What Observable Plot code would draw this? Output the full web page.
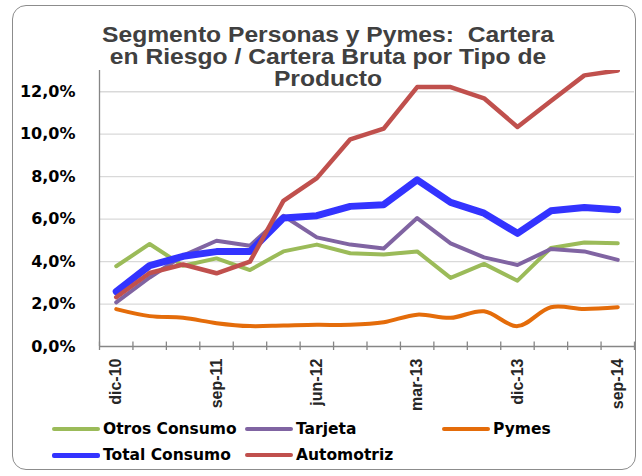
<!DOCTYPE html>
<html><head><meta charset="utf-8">
<script src="https://cdn.jsdelivr.net/npm/d3@7"></script>
<script src="https://cdn.jsdelivr.net/npm/@observablehq/plot@0.6"></script>
<style>
body{margin:0;background:#fff;}
#wrap{position:relative;width:642px;height:476px;overflow:hidden;background:#fff;}
#frame{position:absolute;left:12px;top:5px;width:624px;height:465px;border:1.5px solid #8c8c8c;border-radius:14px;box-sizing:border-box;}
#chart{position:absolute;left:0;top:0;}
.tl{position:absolute;left:0;width:656px;text-align:center;font:bold 22px "Liberation Sans",Arial,sans-serif;line-height:22px;height:22px;color:#404040;transform:scaleX(1.12);transform-origin:328px 0;white-space:nowrap;}
.sw{position:absolute;height:4px;border-radius:2px;width:48px;}
.lt{position:absolute;font:bold 15.5px "DejaVu Sans",sans-serif;line-height:18px;color:#000;white-space:nowrap;}
#chart g[aria-label="y-axis tick label"] text{font-family:"DejaVu Sans",sans-serif;font-weight:bold;font-size:16px;fill:#000;}
#chart g[aria-label="x-axis tick label"] text{font-family:"Liberation Sans",Arial,sans-serif;font-weight:bold;font-size:16px;fill:#262626;}
</style></head>
<body>
<div id="wrap">
  <div id="frame"></div>
  <div id="chart"></div>
  <div class="tl" style="top:24px">Segmento Personas y Pymes:&nbsp; Cartera</div>
  <div class="tl" style="top:46px">en Riesgo / Cartera Bruta por Tipo de</div>
  <div class="tl" style="top:68px">Producto</div>
  <div id="legend"></div>
</div>
<script>
const quarters = ["dic-10","mar-11","jun-11","sep-11","dic-11","mar-12","jun-12","sep-12","dic-12","mar-13","jun-13","sep-13","dic-13","mar-14","jun-14","sep-14"];
const tickLabels = ["dic-10","sep-11","jun-12","mar-13","dic-13","sep-14"];
const yTicks = [0,2,4,6,8,10,12];
const seriesNames = ["Otros Consumo","Tarjeta","Pymes","Total Consumo","Automotriz"];
const otrosConsumo = [3.78,4.83,3.80,4.15,3.60,4.48,4.80,4.39,4.33,4.48,3.23,3.89,3.10,4.64,4.90,4.86];
const tarjeta      = [2.08,3.25,4.28,4.98,4.75,6.16,5.14,4.80,4.62,6.05,4.86,4.20,3.84,4.59,4.48,4.08];
const pymes        = [1.76,1.43,1.35,1.10,0.96,0.99,1.02,1.02,1.14,1.50,1.35,1.66,0.96,1.85,1.77,1.85];
const totalConsumo = [2.59,3.81,4.25,4.47,4.47,6.05,6.16,6.60,6.68,7.85,6.79,6.28,5.33,6.39,6.55,6.44];
const automotriz   = [2.32,3.46,3.86,3.45,4.00,6.86,7.93,9.76,10.26,12.22,12.22,11.69,10.34,11.56,12.77,13.00];

const styles = {
  "Otros Consumo": {stroke:"#9bbb59", width:4, curve:"linear"},
  "Tarjeta": {stroke:"#8064a2", width:4, curve:"linear"},
  "Pymes": {stroke:"#e46c0a", width:4, curve:"catmull-rom"},
  "Total Consumo": {stroke:"#3333ff", width:7, curve:"linear"},
  "Automotriz": {stroke:"#c0504d", width:4.5, curve:"linear"}
};
const seriesValues = [otrosConsumo, tarjeta, pymes, totalConsumo, automotriz];
const rows = seriesNames.map((name, k) => seriesValues[k].map((v, i) => ({name, i, v})));

const boundaries = d3.range(quarters.length + 1).map(k => k - 0.5);
const tickIdx = tickLabels.map(l => quarters.indexOf(l));
const axisColor = "#868686";

const chart = Plot.plot({
  width: 642, height: 476,
  marginLeft: 99, marginRight: 8, marginTop: 70, marginBottom: 130,
  style: {background: "transparent", overflow: "visible"},
  x: {type: "linear", domain: [-0.5, quarters.length - 0.5]},
  y: {domain: [0, 13]},
  marks: [
    Plot.gridY(yTicks.filter(d => d > 0), {stroke: "#d9d9d9", strokeOpacity: 1, strokeWidth: 1.3}),
    Plot.axisY(yTicks, {tickSize: 0, tickPadding: 24, label: null,
      tickFormat: d => d.toFixed(1).replace(".", ",") + "%"}),
    Plot.axisX(boundaries, {tickSize: 4, tickFormat: () => "", label: null, stroke: axisColor, strokeWidth: 1.3}),
    Plot.axisX(tickIdx, {tickSize: 0, tickPadding: 12, tickRotate: -90, label: null,
      tickFormat: i => quarters[i]}),
    Plot.ruleX(boundaries, {y1: 0, y2: 0.21, stroke: axisColor, strokeWidth: 1.3}),
    Plot.ruleX([-0.5], {stroke: axisColor, strokeWidth: 1.3}),
    Plot.ruleY([0], {stroke: axisColor, strokeWidth: 1.3}),
    ...rows.map((r, k) => {
      const s = styles[seriesNames[k]];
      return Plot.line(r, {x: "i", y: "v", stroke: s.stroke, strokeWidth: s.width, curve: s.curve,
        strokeLinejoin: "round", strokeLinecap: "round", clip: true});
    })
  ]
});
document.getElementById("chart").appendChild(chart);

// legend
const legendPos = {
  "Otros Consumo": [52, 429], "Tarjeta": [245, 429], "Pymes": [442, 429],
  "Total Consumo": [52, 455], "Automotriz": [245, 455]
};
const leg = document.getElementById("legend");
seriesNames.forEach(name => {
  const [x, y] = legendPos[name];
  const s = styles[name];
  const sw = document.createElement("div");
  sw.className = "sw";
  const h = name === "Total Consumo" ? 5 : 4;
  sw.style.cssText = `left:${x}px;top:${y - h/2}px;height:${h}px;background:${s.stroke};`;
  leg.appendChild(sw);
  const t = document.createElement("div");
  t.className = "lt";
  t.style.cssText = `left:${x + 51}px;top:${y - 9}px;`;
  t.textContent = name;
  leg.appendChild(t);
});
</script>
</body></html>
